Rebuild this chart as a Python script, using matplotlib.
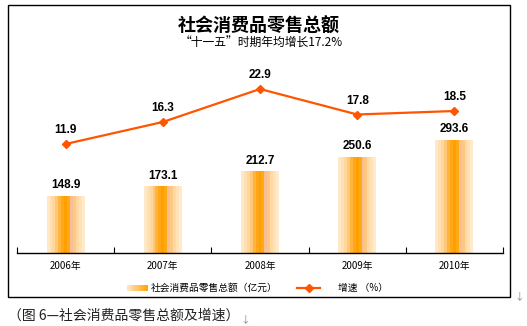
import matplotlib
matplotlib.use('Agg')
import matplotlib.pyplot as plt
import numpy as np
from matplotlib.patches import Rectangle
from matplotlib.lines import Line2D

plt.rcParams['font.family'] = ['Noto Sans CJK SC', 'DejaVu Sans']

# data
years = ['2006年', '2007年', '2008年', '2009年', '2010年']
sales = [148.9, 173.1, 212.7, 250.6, 293.6]      # 亿元
growth = [11.9, 16.3, 22.9, 17.8, 18.5]          # %

title = '社会消费品零售总额'
subtitle = '“十一五”时期年均增长17.2%'
legend_bar = '社会消费品零售总额（亿元）'
legend_line = '增速 （%）'
caption = '（图 6—社会消费品零售总额及增速）'

W, H = 527, 326
fig = plt.figure(figsize=(W / 100, H / 100), dpi=100)

def fx(px):
    return px / W

def fy(py):
    return 1 - py / H

# outer frame
fig.add_artist(Rectangle((fx(8), fy(297)), fx(502), 292 / H, transform=fig.transFigure,
                         fill=False, edgecolor='black', lw=1.0))

# main axes: x 17..503 px, y 60..253 px
ax = fig.add_axes([fx(17), fy(253), fx(486), 193 / H])
x = np.arange(len(years))

# striped bars (light edges, orange middle)
stripe_colors = ['#FFE8C8', '#FFE0B2', '#FFD69C', '#FFC878', '#FFB43C', '#FFA718',
                 '#FFA000', '#FFAA10', '#F8BE96', '#FFC880', '#FFD8A4', '#FFE2B8', '#FFEACC']
bar_w = 0.39
sw = bar_w / len(stripe_colors)
for i, c in enumerate(stripe_colors):
    off = -bar_w / 2 + sw * (i + 0.5)
    ax.bar(x + off, sales, width=sw * 1.02, color=c, linewidth=0)

for xi, v in zip(x, sales):
    ax.text(xi, v + 12, f'{v:.1f}', ha='center', va='bottom', fontsize=8.5,
            fontweight='bold', family='Liberation Sans')

ax.set_xlim(-0.5, len(years) - 0.5)
ax.set_ylim(0, 501.4)
for s in ['top', 'right', 'left']:
    ax.spines[s].set_visible(False)
ax.spines['bottom'].set_linewidth(1.0)
ax.set_yticks([])
ax.set_xticks(np.arange(-0.5, len(years), 1.0))
ax.set_xticklabels([])
ax.tick_params(axis='x', direction='in', length=4, width=0.8)
ax.patch.set_alpha(0)

for xi, lab in zip(x, years):
    ax.text(xi, -33, lab, ha='center', va='center', fontsize=7)

# growth line on secondary scale
ax2 = ax.twinx()
ax2.plot(x, growth, color='#FF5500', lw=1.6, marker='D', markersize=4.5,
         markeredgecolor='#FF5500', markerfacecolor='#FF5500')
for xi, v in zip(x, growth):
    ax2.text(xi, v + 1.6, f'{v:.1f}', ha='center', va='bottom', fontsize=8.5,
             fontweight='bold', family='Liberation Sans')
ax2.set_ylim(-9.9, 28.7)
ax2.set_yticks([])
for s in ax2.spines.values():
    s.set_visible(False)

# titles
fig.text(fx(259), fy(26), title, ha='center', va='center', fontsize=13, fontweight='bold')
fig.text(fx(261), fy(43), subtitle, ha='center', va='center', fontsize=8.5)

# legend
ly = 288
for i in range(10):
    t = i / 9
    c = (1.0, 0.90 - 0.25 * t, 0.75 - 0.7 * t)
    fig.add_artist(Rectangle((fx(127 + i * 2.1), fy(ly + 3)), fx(2.2), 6 / H,
                             transform=fig.transFigure, color=c, lw=0))
fig.text(fx(151), fy(ly), legend_bar, ha='left', va='center', fontsize=7)
fig.add_artist(Line2D([fx(297), fx(320)], [fy(ly), fy(ly)], transform=fig.transFigure,
                      color='#FF5500', lw=1.6))
fig.add_artist(Line2D([fx(308.5)], [fy(ly)], transform=fig.transFigure,
                      color='#FF5500', marker='D', markersize=4, lw=0))
fig.text(fx(338), fy(ly), legend_line, ha='left', va='center', fontsize=7)

# caption below frame
fig.text(fx(8), fy(316), caption, ha='left', va='center', fontsize=10, color='#222222')
fig.text(fx(240), fy(319), '↓', ha='left', va='center', fontsize=7, color='#888888')
fig.text(fx(514), fy(296), '↓', ha='left', va='center', fontsize=7, color='#888888')

fig.savefig('out.png', dpi=100)
